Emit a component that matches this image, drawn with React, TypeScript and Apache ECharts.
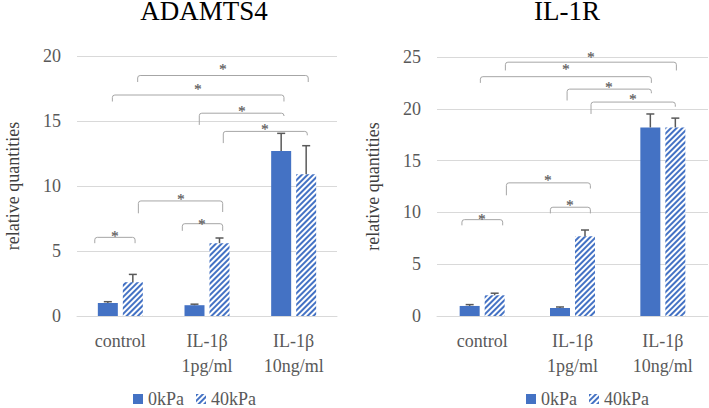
import React, { useEffect, useRef } from "react";
import * as echarts from "echarts";

const categories = ["control", "IL-1β\n1pg/ml", "IL-1β\n10ng/ml"];
const seriesNames = ["0kPa", "40kPa"];
const yTicksLeft = { max: 20, interval: 5 };
const yTicksRight = { max: 25, interval: 5 };

// ADAMTS4
const adamts0 = [1.0, 0.83, 12.7];
const adamts0Err = [0.1, 0.08, 1.35];
const adamts40 = [2.6, 5.6, 10.9];
const adamts40Err = [0.6, 0.4, 2.2];
// [cat1, offset1, cat2, offset2, yLine, yEnd1, yEnd2, yStar]
const adamtsBrackets = [
  [0, 0.2, 2, 0.168, 18.5, 18.0, 18.0, 19.25],
  [0, -0.092, 2, -0.112, 17.0, 16.5, 16.5, 17.7],
  [1, -0.089, 2, -0.112, 15.6, 14.7, 15.45, 16.0],
  [1, 0.188, 2, 0.157, 14.2, 13.3, 13.9, 14.65],
  [0, 0.208, 1, 0.181, 8.85, 7.9, 8.0, 9.23],
  [0, -0.295, 0, 0.17, 6.05, 5.6, 5.6, 6.4],
  [1, -0.285, 1, 0.181, 7.1, 6.55, 6.55, 7.33],
];

// IL-1R
const il1r0 = [0.97, 0.77, 18.2];
const il1r0Err = [0.13, 0.1, 1.3];
const il1r40 = [2.0, 7.7, 18.2];
const il1r40Err = [0.2, 0.6, 0.9];
const il1rBrackets = [
  [0, 0.257, 2, 0.15, 24.5, 23.7, 23.7, 25.33],
  [0, -0.02, 2, -0.127, 23.1, 22.5, 22.5, 24.1],
  [1, -0.06, 2, -0.127, 21.9, 20.8, 21.5, 22.43],
  [1, 0.205, 2, 0.138, 20.65, 19.5, 20.2, 21.2],
  [0, 0.268, 1, 0.198, 12.85, 11.65, 12.3, 13.42],
  [1, -0.245, 1, 0.198, 10.5, 9.9, 9.9, 11.0],
  [0, -0.224, 0, 0.227, 9.3, 8.75, 8.75, 9.65],
];

const FONT = "Liberation Serif, Times New Roman, serif";
const BLUE = "#4472C4";
const GRAY_TEXT = "#595959";

const hatch = {
  symbol: "rect",
  symbolSize: 1,
  dashArrayX: [1, 0],
  dashArrayY: [1.6, 1.3],
  rotation: -Math.PI / 4,
  color: BLUE,
};

function errorSeries(idx: number, values: number[], errs: number[], sign: number) {
  return {
    type: "custom",
    xAxisIndex: idx,
    yAxisIndex: idx,
    silent: true,
    z: 5,
    itemStyle: { color: GRAY_TEXT },
    data: values.map((v, i) => [i, v, v + errs[i]]),
    encode: { x: 0, y: [1, 2] },
    renderItem: (params: any, api: any) => {
      const p0 = api.coord([api.value(0), api.value(1)]);
      const p1 = api.coord([api.value(0), api.value(2)]);
      const x = p0[0] + sign * 12.5;
      const style = { stroke: GRAY_TEXT, lineWidth: 1.5, fill: "none" };
      return {
        type: "group",
        children: [
          { type: "line", shape: { x1: x, y1: p0[1], x2: x, y2: p1[1] }, style },
          { type: "line", shape: { x1: x - 4, y1: p1[1], x2: x + 4, y2: p1[1] }, style },
        ],
      };
    },
  };
}

function bracketSeries(idx: number, brackets: number[][]) {
  return {
    type: "custom",
    xAxisIndex: idx,
    yAxisIndex: idx,
    silent: true,
    z: 6,
    itemStyle: { color: GRAY_TEXT },
    data: brackets,
    encode: { x: 0, y: 4 },
    renderItem: (params: any, api: any) => {
      const bw = api.size([1, 0])[0];
      const pa = api.coord([api.value(0), api.value(4)]);
      const pb = api.coord([api.value(2), api.value(4)]);
      const x1 = pa[0] + api.value(1) * bw;
      const x2 = pb[0] + api.value(3) * bw;
      const yL = pa[1];
      const y1 = api.coord([api.value(0), api.value(5)])[1];
      const y2 = api.coord([api.value(2), api.value(6)])[1];
      const ys = api.coord([api.value(0), api.value(7)])[1];
      const r = 2.5;
      const d = `M${x1} ${y1} L${x1} ${yL + r} Q${x1} ${yL} ${x1 + r} ${yL} L${x2 - r} ${yL} Q${x2} ${yL} ${x2} ${yL + r} L${x2} ${y2}`;
      return {
        type: "group",
        children: [
          {
            type: "path",
            shape: { pathData: d },
            style: { fill: "none", stroke: "#a6a6a6", lineWidth: 1 },
          },
          {
            type: "text",
            x: Math.round((x1 + x2) / 2),
            y: Math.round(ys + 3),
            rotation: 0.05,
            style: {
              text: "*",
              fill: "#595959",
              stroke: "#595959",
              lineWidth: 0.2,
              fontFamily: FONT,
              fontSize: 15,
              align: "center",
              verticalAlign: "middle",
            },
          },
        ],
      };
    },
  };
}

function axesFor(idx: number, ticks: { max: number; interval: number }) {
  const xAxis = {
    type: "category",
    gridIndex: idx,
    data: categories,
    axisTick: { show: false },
    axisLine: { lineStyle: { color: "#d9d9d9", width: 1 } },
    axisLabel: {
      color: GRAY_TEXT,
      fontFamily: FONT,
      fontSize: 18,
      lineHeight: 25,
      margin: 12,
      interval: 0,
    },
  };
  const yAxis = {
    type: "value",
    gridIndex: idx,
    min: 0,
    max: ticks.max,
    interval: ticks.interval,
    name: "relative quantities",
    nameLocation: "middle",
    nameGap: 55,
    nameRotate: 90,
    nameTextStyle: { color: "#404040", fontFamily: FONT, fontSize: 18 },
    axisLine: { show: false },
    axisTick: { show: false },
    splitLine: { lineStyle: { color: "#d9d9d9", width: 1 } },
    axisLabel: { color: GRAY_TEXT, fontFamily: FONT, fontSize: 18, margin: 16 },
  };
  return { xAxis, yAxis };
}

function barSeries(idx: number, name: string, values: number[], hatched: boolean) {
  return {
    type: "bar",
    name,
    xAxisIndex: idx,
    yAxisIndex: idx,
    data: values,
    barWidth: 20,
    barGap: "25%",
    itemStyle: hatched ? { color: "#ffffff", decal: hatch } : { color: BLUE },
  };
}

export default function App() {
  const ref = useRef<HTMLDivElement>(null);
  useEffect(() => {
    if (!ref.current) return;
    const chart = echarts.init(ref.current, null, { renderer: "svg" });
    const L = axesFor(0, yTicksLeft);
    const R = axesFor(1, yTicksRight);
    const legendBase = {
      data: seriesNames,
      icon: "rect",
      itemWidth: 10,
      itemHeight: 10,
      itemGap: 12,
      padding: 0,
      textStyle: { color: GRAY_TEXT, fontFamily: FONT, fontSize: 18 },
      top: 390,
    };
    chart.setOption({
      animation: false,
      aria: { decal: { show: false } },
      graphic: [
        {
          type: "text",
          x: 204,
          y: 11,
          style: { text: "ADAMTS4", fontFamily: FONT, fontSize: 27, fill: "#000", align: "center", verticalAlign: "middle" },
        },
        {
          type: "text",
          x: 567,
          y: 11,
          style: { text: "IL-1R", fontFamily: FONT, fontSize: 27, fill: "#000", align: "center", verticalAlign: "middle" },
        },
      ],
      grid: [
        { left: 77, right: 372, top: 56, bottom: 92 },
        { left: 437, right: 1, top: 57, bottom: 92 },
      ],
      xAxis: [L.xAxis, R.xAxis],
      yAxis: [L.yAxis, R.yAxis],
      legend: [
        { ...legendBase, left: 133 },
        { ...legendBase, left: 526 },
      ],
      series: [
        barSeries(0, seriesNames[0], adamts0, false),
        barSeries(0, seriesNames[1], adamts40, true),
        errorSeries(0, adamts0, adamts0Err, -1),
        errorSeries(0, adamts40, adamts40Err, 1),
        bracketSeries(0, adamtsBrackets),
        barSeries(1, seriesNames[0], il1r0, false),
        barSeries(1, seriesNames[1], il1r40, true),
        errorSeries(1, il1r0, il1r0Err, -1),
        errorSeries(1, il1r40, il1r40Err, 1),
        bracketSeries(1, il1rBrackets),
      ],
    });
    return () => chart.dispose();
  }, []);
  return (
    <div
      ref={ref}
      style={{ position: "absolute", left: 0, top: 0, width: 709, height: 408, background: "#fff" }}
    />
  );
}
